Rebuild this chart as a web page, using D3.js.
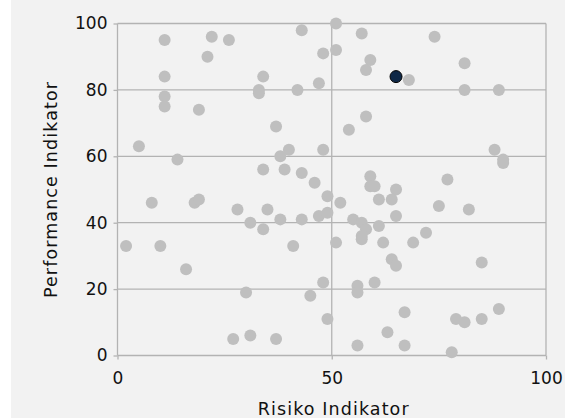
<!DOCTYPE html>
<html lang="de">
<head>
<meta charset="UTF-8">
<title>Risiko vs Performance</title>
<script src="https://cdn.jsdelivr.net/npm/d3@7"></script>
<style>
    body { margin: 0; background: #fff; }
    svg { display: block; }
    .tick text { font-family: "DejaVu Sans", Verdana, sans-serif; font-size: 17px; fill: #111; }
    .axis-title { font-family: "DejaVu Sans", Verdana, sans-serif; font-size: 17.5px; letter-spacing: 1.1px; fill: #111; }
</style>
</head>
<body>
<svg id="chart" width="565" height="418"></svg>
<script>
    // Risiko Indikator (x) / Performance Indikator (y)
    const risk = [11, 22, 26, 21, 43, 48, 11, 34, 33, 33, 42, 47, 11, 11, 19, 37, 5, 40, 38, 48,
                  14, 34, 39, 43, 46, 49, 8, 18, 19, 2, 10, 16, 28, 31, 34, 35, 38, 41, 43, 47,
                  49, 30, 45, 48, 49, 27, 31, 37, 51, 57, 74, 51, 59, 58, 68, 81, 81, 89, 58, 54,
                  88, 90, 90, 59, 59, 60, 65, 77, 52, 61, 64, 75, 82, 55, 57, 58, 57, 57, 61, 65,
                  51, 62, 69, 72, 64, 65, 85, 56, 56, 60, 67, 79, 81, 85, 89, 63, 56, 67, 78];
    const perf = [95, 96, 95, 90, 98, 91, 84, 84, 80, 79, 80, 82, 78, 75, 74, 69, 63, 62, 60, 62,
                  59, 56, 56, 55, 52, 48, 46, 46, 47, 33, 33, 26, 44, 40, 38, 44, 41, 33, 41, 42,
                  43, 19, 18, 22, 11, 5, 6, 5, 100, 97, 96, 92, 89, 86, 83, 88, 80, 80, 72, 68,
                  62, 59, 58, 54, 51, 51, 50, 53, 46, 47, 47, 45, 44, 41, 40, 38, 36, 35, 39, 42,
                  34, 34, 34, 37, 29, 27, 28, 21, 19, 22, 13, 11, 10, 11, 14, 7, 3, 3, 1];
    const highlight = { risk: 65, perf: 84 };
    const yTicks = [0, 20, 40, 60, 80, 100];
    const xTicks = [0, 50, 100];

    const W = 565, H = 418;
    const m = { top: 23.5, right: 19, bottom: 62.5, left: 117.5 };
    const svg = d3.select("#chart");

    svg.append("rect").attr("x", 11).attr("y", 0).attr("width", W - 11).attr("height", H).attr("fill", "#f2f2f2");

    const x = d3.scaleLinear().domain([0, 100]).range([m.left, W - m.right]);
    const y = d3.scaleLinear().domain([0, 100]).range([H - m.bottom, m.top]);

    const grid = svg.append("g").attr("stroke", "#b3b3b3").attr("stroke-width", 1.3);
    grid.selectAll(".hg").data(yTicks).enter().append("line")
        .attr("x1", x(0)).attr("x2", x(100)).attr("y1", d => y(d)).attr("y2", d => y(d));
    grid.selectAll(".vg").data(xTicks).enter().append("line")
        .attr("x1", d => x(d)).attr("x2", d => x(d)).attr("y1", y(0)).attr("y2", y(100));

    const yAxis = svg.append("g").attr("transform", `translate(${x(0)},0)`)
        .call(d3.axisLeft(y).tickValues(yTicks).tickSize(4).tickPadding(6));
    const xAxis = svg.append("g").attr("transform", `translate(0,${y(0)})`)
        .call(d3.axisBottom(x).tickValues(xTicks).tickSize(4).tickPadding(12));
    [yAxis, xAxis].forEach(a => {
        a.select(".domain").remove();
        a.selectAll(".tick line").attr("stroke", "#b3b3b3").attr("stroke-width", 1.3);
    });

    const pts = risk.map((r, i) => ({ r, p: perf[i] }));
    svg.append("g").selectAll("circle").data(pts).enter().append("circle")
        .attr("cx", d => x(d.r)).attr("cy", d => y(d.p)).attr("r", 6)
        .attr("fill", "#bfbfbf");

    svg.append("circle").attr("cx", x(highlight.risk)).attr("cy", y(highlight.perf)).attr("r", 6)
        .attr("fill", "#0f2846").attr("stroke", "#000").attr("stroke-width", 1);

    svg.append("text").attr("class", "axis-title")
        .attr("x", x(50) + 2).attr("y", 415).attr("text-anchor", "middle").text("Risiko Indikator");
    svg.append("text").attr("class", "axis-title")
        .attr("transform", `translate(57,${(y(0) + y(100)) / 2}) rotate(-90)`)
        .attr("text-anchor", "middle").text("Performance Indikator");
</script>
</body>
</html>
